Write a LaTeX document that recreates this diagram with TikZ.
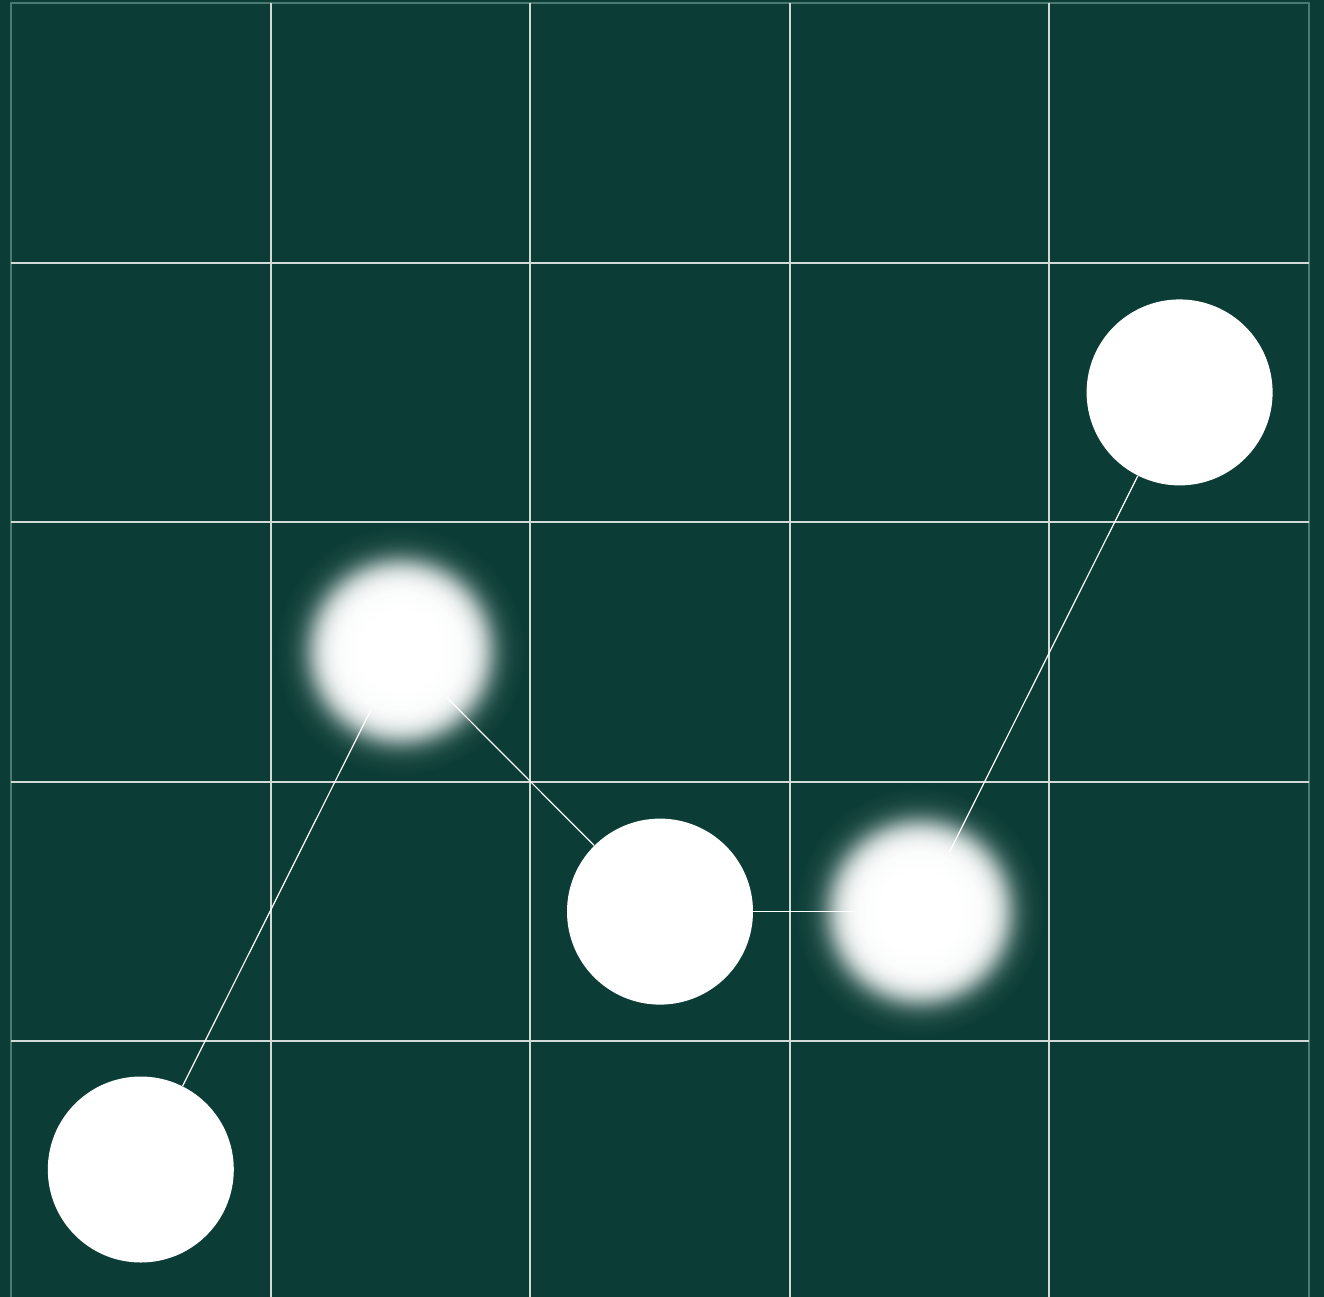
\documentclass[tikz,border=0pt]{standalone}
\usetikzlibrary{calc}
\definecolor{bg}{HTML}{0B3C35}
\definecolor{gridc}{HTML}{D2D9D7}
\definecolor{framec}{HTML}{4C7A72}
\colorlet{bA}{white!98.2!bg}
\colorlet{bB}{white!96.1!bg}
\colorlet{bC}{white!91.7!bg}
\colorlet{bD}{white!83.2!bg}
\colorlet{bE}{white!69!bg}
\colorlet{bF}{white!50!bg}
\colorlet{bG}{white!31!bg}
\colorlet{bH}{white!16.8!bg}
\colorlet{bI}{white!8.3!bg}
\colorlet{bJ}{white!3.9!bg}
\colorlet{bK}{white!1.8!bg}
\pgfdeclareradialshading{softdisc}{\pgfpoint{0bp}{0bp}}{%
  color(0bp)=(white); color(8bp)=(white); color(12bp)=(bA);
  color(13.2bp)=(bB); color(14.4bp)=(bC); color(15.6bp)=(bD);
  color(16.8bp)=(bE); color(18bp)=(bF); color(19.2bp)=(bG);
  color(20.4bp)=(bH); color(21.6bp)=(bI); color(22.8bp)=(bJ);
  color(24bp)=(bK); color(25bp)=(bg); color(50bp)=(bg)}
\tikzset{
  gridline/.style={draw=gridc, line width=1pt},
  frameline/.style={draw=framec, line width=0.8pt},
  link/.style={draw=white, line width=0.6pt},
  disc/.style={circle, fill=white, draw=none, minimum size=93pt, inner sep=0pt},
  softnode/.style={circle, draw=none, minimum size=66pt, inner sep=0pt},
}
\begin{document}
\begin{tikzpicture}[x=0.5pt, y=-0.5pt]
\useasboundingbox (0,0) rectangle (1324,1297);
\fill[bg] (0,0) rectangle (1324,1297);
% outer frame
\draw[frameline] (11,1297) -- (11,3) -- (1309,3) -- (1309,1297);
% inner grid
\foreach \k in {1,2,3,4}{
  \draw[gridline] ({11+259.6*\k},3) -- ({11+259.6*\k},1297);
  \draw[gridline] (11,{3+259.6*\k}) -- (1309,{3+259.6*\k});
}
% soft (blurred) discs
\shade[shading=softdisc] (400.4,651) circle[radius=125];
\shade[shading=softdisc] (919.6,911.6) circle[radius=125];
% nodes
\node[disc] (c1) at (140.8,1169.5) {};
\node[softnode] (c2) at (400.4,651) {};
\node[disc] (c3) at (660,911.6) {};
\node[softnode] (c4) at (919.6,911.6) {};
\node[disc] (c5) at (1179.6,392.4) {};
% connectors
\draw[link] (c1) -- (c2);
\draw[link] (c2) -- (c3);
\draw[link] (c3) -- (c4);
\draw[link] (c4) -- (c5);
\end{tikzpicture}
\end{document}
